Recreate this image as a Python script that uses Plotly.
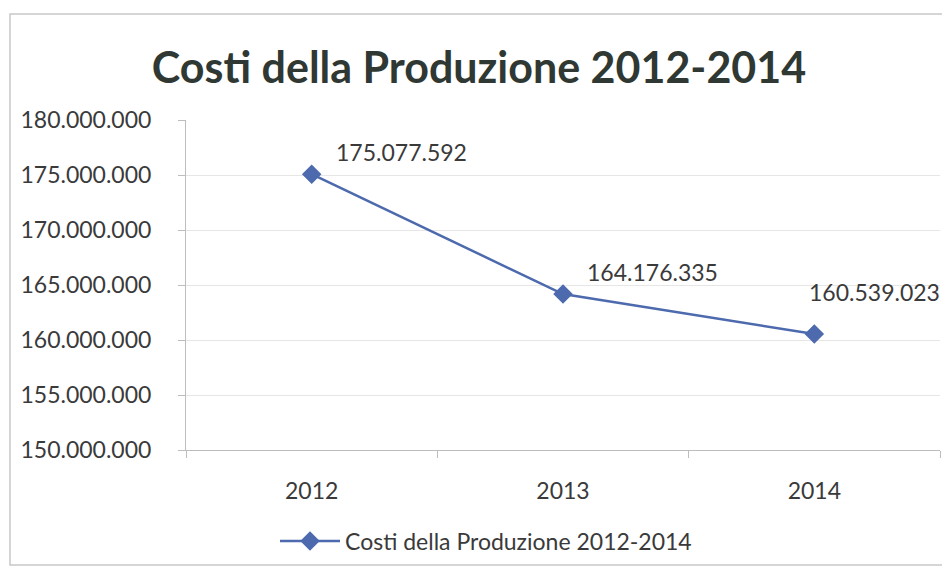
import plotly.graph_objects as go

years = ["2012", "2013", "2014"]
costi = [175077592, 164176335, 160539023]
labels = ["175.077.592", "164.176.335", "160.539.023"]
series_name = "Costi della Produzione 2012-2014"
title_text = "Costi della Produzione 2012-2014"

line_color = "#4C6AAD"
text_color = "#3a3a3a"
FONT = "Lato, Open Sans, sans-serif"

# page body has an 8px margin; work in reference pixel coords and shift
OFF = 8
FW, FH = 950 - OFF, 570 - OFF
L, R, T, B = 186 - OFF, 940 - OFF, 120 - OFF, 450 - OFF
W = R - L
H = B - T


def px(x):
    return (x - OFF - L) / W


def py(y):
    return (B - (y - OFF)) / H


fig = go.Figure()
fig.add_trace(go.Scatter(
    x=years, y=costi, mode="lines+markers", name=series_name,
    line=dict(color=line_color, width=2.5),
    marker=dict(symbol="diamond", size=15, color=line_color),
))

# label offsets (the last label is pulled left/up to stay inside the chart)
label_shift = [(22, 6), (22, 6), (-7, 26)]
for i, (v, lab) in enumerate(zip(costi, labels)):
    dx, dy = label_shift[i]
    fig.add_annotation(xref="x", yref="y", x=i, y=v, text=lab, showarrow=False,
                       xanchor="left", yanchor="bottom", xshift=dx, yshift=dy,
                       font=dict(family=FONT, size=23, color=text_color))

# chart border
fig.add_shape(type="rect", xref="paper", yref="paper",
              x0=px(10), x1=px(947), y0=py(565), y1=py(14),
              line=dict(color="#c8c8c8", width=1.5), layer="below")

fig.update_layout(
    width=FW, height=FH,
    margin=dict(l=L, r=FW - R, t=T, b=FH - B, autoexpand=False),
    paper_bgcolor="white", plot_bgcolor="white",
    separators=",.",
    title=dict(text=title_text, x=(479 - OFF) / FW, xanchor="center",
               y=1 - (68 - OFF) / FH, yanchor="middle",
               font=dict(family=FONT, size=43, color="#2f3833", weight="bold")),
    showlegend=True,
    legend=dict(orientation="h", x=px(486), xanchor="center", y=py(541), yanchor="middle",
                font=dict(family=FONT, size=23, color=text_color),
                itemwidth=60),
    xaxis=dict(type="category", range=[-0.5, 2.5], showgrid=False,
               showline=True, linecolor="#bdbdbd", linewidth=1,
               ticks="outside", tickson="boundaries", ticklen=7, tickcolor="#bdbdbd",
               ticklabelstandoff=20,
               tickfont=dict(family=FONT, size=23, color=text_color)),
    yaxis=dict(range=[150000000, 180000000], dtick=5000000, tickformat=",.0f",
               showgrid=True, gridcolor="#e6e6e6", gridwidth=1,
               showline=True, linecolor="#bdbdbd", linewidth=1,
               ticks="outside", ticklen=7, tickcolor="#bdbdbd",
               ticklabelstandoff=22, zeroline=False,
               tickfont=dict(family=FONT, size=23, color=text_color)),
)

fig.write_html("out.html")
